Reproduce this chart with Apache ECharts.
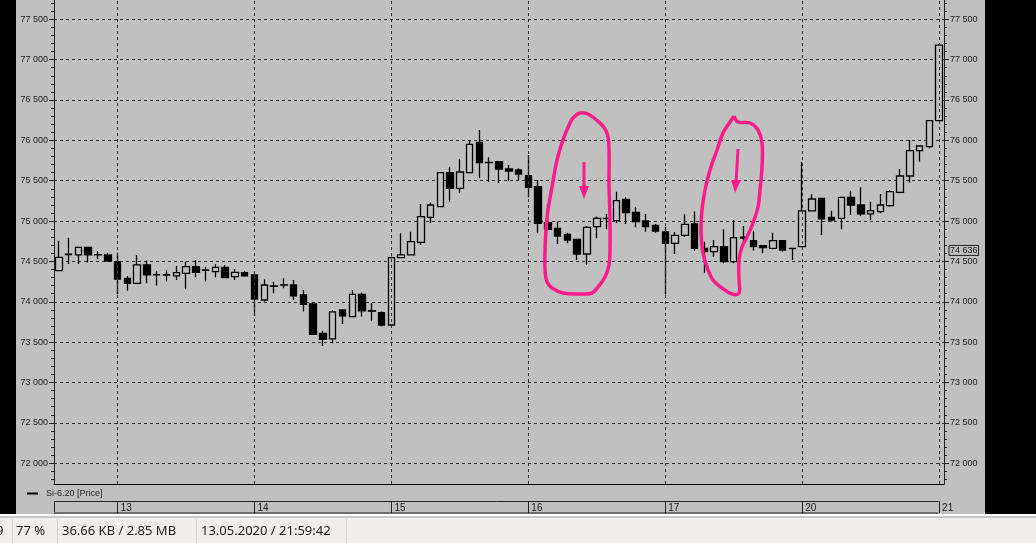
<!DOCTYPE html>
<html>
<head>
<meta charset="utf-8">
<style>
  html, body { margin: 0; padding: 0; background: #c0c0c0; }
  #chart { width: 1036px; height: 543px; }
</style>
<script src="https://cdn.jsdelivr.net/npm/echarts@6/dist/echarts.min.js"></script>
</head>
<body>
<div id="chart"></div>
<script>
// торговые дни и часы (часовые свечи Si-6.20)
const days = ['12', '13', '14', '15', '16', '17', '20', '21']
const hours = [10, 11, 12, 13, 14, 15, 16, 17, 18, 19, 20, 21, 22, 23]

const open = [
  74385, 74585, 74580, 74675, 74580, 74580,
  74497, 74290, 74228, 74456, 74332, 74330, 74320, 74352, 74435, 74390, 74373, 74427, 74311, 74361,
  74332, 74022, 74190, 74205, 74208, 74084, 73973, 73609, 73539, 73898, 73816, 74092, 73885, 73865,
  73712, 74547, 74580, 74737, 75046, 75178, 75600, 75406, 75600, 75975, 75725, 75736, 75645, 75633,
  75562, 75426, 74980, 74910, 74836, 74774, 74592, 74930, 75030, 75005, 75269, 75108, 75001, 74947,
  74865, 74724, 74823, 74964, 74662, 74621, 74683, 74497, 74800, 74757, 74695, 74662, 74757, 74660,
  74683, 75125, 75281, 75046, 75034, 75294, 75199, 75088, 75116, 75191, 75356, 75558, 75872, 75922,
  76244
]
const close = [
  74551, 74590, 74675, 74580, 74585, 74505,
  74282, 74228, 74456, 74332, 74335, 74335, 74361, 74435, 74365, 74395, 74427, 74299, 74365, 74320,
  74034, 74208, 74196, 74209, 74072, 73968, 73597, 73535, 73874, 73824, 74092, 73886, 73890, 73712,
  74547, 74580, 74745, 75055, 75199, 75600, 75406, 75608, 75951, 75724, 75728, 75645, 75620, 75583,
  75418, 74972, 74898, 74815, 74765, 74592, 74922, 75034, 75034, 75253, 75104, 74993, 74930, 74877,
  74724, 74823, 74960, 74662, 74621, 74683, 74497, 74794, 74790, 74683, 74670, 74757, 74641, 74662,
  75125, 75273, 75026, 75013, 75294, 75199, 75088, 75129, 75199, 75364, 75558, 75872, 75930, 76244,
  77181
]
const low = [
  74380, 74468, 74468, 74488, 74526, 74500,
  74092, 74138, 74220, 74228, 74200, 74250, 74270, 74154, 74303, 74250, 74303, 74295, 74270, 74311,
  73824, 74002, 74105, 74167, 74022, 73878, 73590, 73452, 73485, 73725, 73816, 73816, 73766, 73692,
  73700, 74545, 74575, 74704, 74980, 75170, 75240, 75344, 75600, 75530, 75488, 75468, 75500, 75509,
  75294, 74856, 74890, 74716, 74724, 74518, 74456, 74786, 74898, 74972, 74964, 74922, 74869, 74856,
  74090, 74592, 74807, 74633, 74361, 74559, 74476, 74476, 74724, 74633, 74600, 74650, 74621, 74518,
  74675, 75120, 74827, 74993, 74898, 75075, 75063, 75013, 75096, 75178, 75344, 75476, 75736, 75901,
  76240
]
const high = [
  74757, 74794, 74680, 74680, 74629, 74600,
  74608, 74320, 74580, 74510, 74385, 74390, 74443, 74497, 74518, 74435, 74464, 74452, 74406, 74385,
  74340, 74278, 74249, 74291, 74270, 74146, 73997, 73642, 73898, 73906, 74146, 74113, 73981, 73878,
  74559, 74848, 74869, 75212, 75228, 75600, 75666, 75765, 76004, 76128, 75790, 75744, 75695, 75653,
  75818, 75509, 75211, 74993, 74856, 74774, 74939, 75055, 75087, 75364, 75294, 75170, 75088, 74964,
  74930, 74865, 75083, 75117, 74745, 74765, 74898, 75013, 74939, 74881, 74704, 74856, 74765, 74662,
  75736, 75331, 75290, 75129, 75302, 75377, 75418, 75240, 75335, 75385, 75645, 76004, 75930, 76244,
  77194
]

const yLabels = [72000, 72500, 73000, 73500, 74000, 74500, 75000, 75500, 76000, 76500, 77000, 77500]
const lastMark = 74636
const yMin = 71742
const yMax = 77739

// категории: 12-е с 18:00, затем полные дни, 21-е только 10:00
const categories = []
days.forEach(d => {
  hours.forEach(h => {
    if (d === '12' && h < 18) return
    if (d === '21' && h > 10) return
    categories.push(d + ' ' + h + ':00')
  })
})
const isDayStart = i => categories[i].endsWith(' 10:00')
const dayStarts = categories.filter((c, i) => isDayStart(i))

const yMinor = []
for (let v = 71800; v <= yMax; v += 100) yMinor.push(v)

const fmt = v => { const s = String(v); return s.slice(0, 2) + ' ' + s.slice(2) }
const labelFont = { fontFamily: 'Liberation Sans', fontSize: 9, color: '#1a1a1a' }
const pink = '#ff1a8c'

const chart = echarts.init(document.getElementById('chart'))

const yBase = {
  type: 'value', min: yMin, max: yMax, scale: true,
  axisLine: { show: true, lineStyle: { color: '#222' } },
  axisTick: { show: true, customValues: yLabels, length: 5, lineStyle: { color: '#222' } },
  axisLabel: { customValues: yLabels, formatter: fmt, margin: 6, ...labelFont },
  splitLine: { show: false }
}
const yMinorBase = {
  type: 'value', min: yMin, max: yMax, scale: true,
  axisLine: { show: false },
  axisTick: { show: true, customValues: yMinor, length: 3, lineStyle: { color: '#222' } },
  axisLabel: { show: false },
  splitLine: { show: false }
}

const option = {
  backgroundColor: '#c0c0c0',
  animation: false,
  grid: [
    { left: 54, right: 92, top: 0, bottom: 59 },
    // полоса с датами под графиком
    { left: 54, right: 92, top: 501, height: 12 }
  ],
  legend: {
    left: 27, top: 489, padding: 0, icon: 'rect', itemWidth: 11, itemHeight: 2, selectedMode: false,
    itemStyle: { color: '#000', borderWidth: 0 },
    textStyle: { ...labelFont, color: '#222', padding: [0, 0, 0, 3] },
    data: ['Si-6.20 [Price]']
  },
  xAxis: [
    {
      type: 'category', data: categories, boundaryGap: true,
      axisLine: { lineStyle: { color: '#000' } },
      axisTick: { show: false },
      axisLabel: { show: false },
      splitLine: { show: false }
    },
    {
      type: 'category', data: categories, boundaryGap: true, position: 'bottom', offset: 17,
      axisLine: { show: false },
      axisTick: { show: false },
      axisLabel: {
        interval: isDayStart, formatter: v => v.split(' ')[0], align: 'left',
        margin: 2, padding: [0, 0, 0, 3], ...labelFont, fontSize: 10
      },
      splitLine: { show: false }
    },
    {
      type: 'category', gridIndex: 1, data: categories, boundaryGap: true, show: false
    }
  ],
  yAxis: [
    { ...yBase, position: 'left', splitLine: { show: true, lineStyle: { color: '#303030', type: [3, 3] } } },
    { ...yBase, position: 'right' },
    { ...yMinorBase, position: 'left' },
    { ...yMinorBase, position: 'right' },
    { type: 'value', gridIndex: 1, min: 0, max: 1, show: false }
  ],
  series: [
    {
      type: 'candlestick',
      name: 'Si-6.20 [Price]',
      data: categories.map((c, i) => [open[i], close[i], low[i], high[i]]),
      barWidth: 7,
      itemStyle: { color: '#c0c0c0', color0: '#000', borderColor: '#000', borderColor0: '#000', borderWidth: 1.3 },
      markLine: {
        silent: true, symbol: 'none', animation: false,
        data: [
          ...dayStarts.map(c => ({
            xAxis: c, label: { show: false },
            lineStyle: { color: '#303030', type: [3, 3], width: 1 }
          })),
          {
            yAxis: lastMark,
            lineStyle: { color: 'rgba(0,0,0,0)' },
            label: {
              show: true, position: 'end', distance: 5, formatter: fmt(lastMark),
              borderColor: '#222', borderWidth: 1, padding: [1, 1, 0, 1], ...labelFont
            }
          }
        ]
      }
    },
    {
      // только разделители дней в полосе дат
      type: 'line', xAxisIndex: 2, yAxisIndex: 4, data: [], silent: true,
      markLine: {
        silent: true, symbol: 'none', animation: false,
        label: { show: false },
        lineStyle: { color: '#222', type: 'solid', width: 1 },
        data: dayStarts.map(c => ({ xAxis: c }))
      }
    }
  ],
  graphic: [
    // рамки окна
    { type: 'rect', shape: { x: 0, y: 0, width: 16, height: 514 }, style: { fill: '#000' } },
    { type: 'rect', shape: { x: 985, y: 0, width: 51, height: 514 }, style: { fill: '#000' } },
    // полоса дат
    { type: 'line', shape: { x1: 54, y1: 501.5, x2: 938.5, y2: 501.5 }, style: { stroke: '#222', lineWidth: 1 } },
    { type: 'line', shape: { x1: 54.5, y1: 501, x2: 54.5, y2: 513 }, style: { stroke: '#222', lineWidth: 1 } },
    { type: 'line', shape: { x1: 54, y1: 513, x2: 938.5, y2: 513 }, style: { stroke: '#6e6e6e', lineWidth: 2 } },
    // строка состояния
    { type: 'rect', shape: { x: 0, y: 514, width: 1036, height: 29 }, style: { fill: '#f0efed' } },
    { type: 'line', shape: { x1: 0, y1: 515, x2: 1036, y2: 515 }, style: { stroke: '#ffffff', lineWidth: 2 } },
    { type: 'line', shape: { x1: 0, y1: 517, x2: 1036, y2: 517 }, style: { stroke: '#a0a0a0', lineWidth: 1 } },
    ...[12, 57, 196, 346].map(x => ({
      type: 'line', shape: { x1: x + 0.5, y1: 519, x2: x + 0.5, y2: 543 }, style: { stroke: '#d3d1ce', lineWidth: 1 }
    })),
    ...[['9', -4], ['77 %', 16], ['36.66 KB / 2.85 MB', 62], ['13.05.2020 / 21:59:42', 201]].map(([t, x]) => ({
      type: 'text', x: x, y: 531,
      style: { text: t, fill: '#1e1e1e', font: '13px "Noto Sans"', textVerticalAlign: 'middle' }
    })),
    // розовые пометки от руки
    {
      type: 'polyline', z: 100,
      shape: { smooth: 0.4, points: [[570,123],[563,140],[557,160],[552,187],[548,210],[546,230],[545,250],[545,270],[547,282],[552,288],[563,293],[580,294],[592,293],[598,287],[605,277],[609,265],[610,250],[610,220],[609,183],[609,150],[607,133],[600,123],[588,114],[580,113],[573,118],[570,123]] },
      style: { stroke: pink, lineWidth: 3.5, fill: null }
    },
    {
      type: 'polyline', z: 100,
      shape: { smooth: 0.4, points: [[734,116],[738,122],[750,123],[758,130],[762,143],[762,167],[760,190],[758,207],[753,223],[747,237],[742,247],[739,260],[739,280],[739,293],[732,294],[722,288],[713,280],[707,267],[703,253],[701,233],[702,210],[705,190],[710,170],[717,150],[723,133],[730,122],[734,116]] },
      style: { stroke: pink, lineWidth: 3.5, fill: null }
    },
    { type: 'line', z: 100, shape: { x1: 584, y1: 162, x2: 584, y2: 190 }, style: { stroke: pink, lineWidth: 3 } },
    { type: 'polygon', z: 100, shape: { points: [[579, 186], [589, 186], [584, 199]] }, style: { fill: pink } },
    { type: 'line', z: 100, shape: { x1: 738, y1: 149, x2: 736, y2: 183 }, style: { stroke: pink, lineWidth: 3 } },
    { type: 'polygon', z: 100, shape: { points: [[731, 180], [741, 180], [735, 193]] }, style: { fill: pink } }
  ]
}

chart.setOption(option)
</script>
</body>
</html>
